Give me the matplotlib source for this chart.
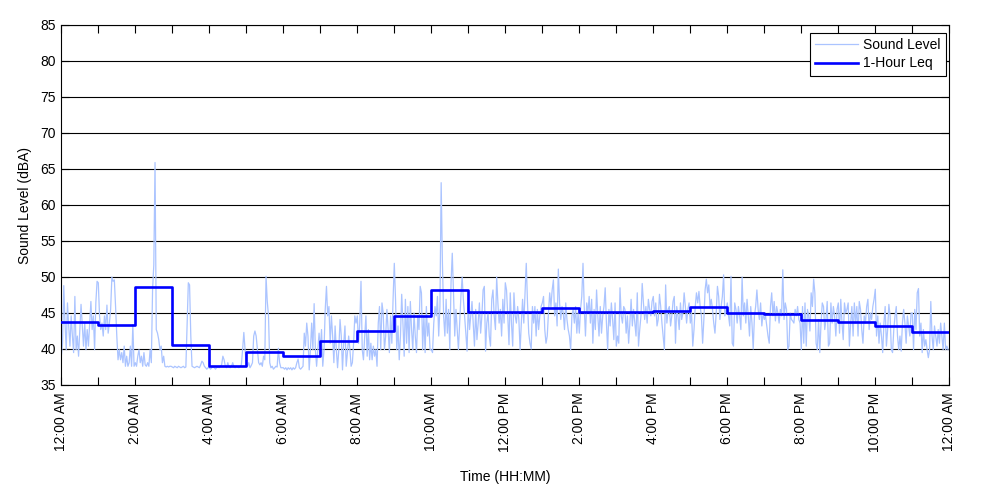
import numpy as np
import matplotlib
matplotlib.use("Agg")
import matplotlib.pyplot as plt

plt.rcParams['font.family'] = ['Liberation Sans', 'DejaVu Sans']
plt.rcParams['font.size'] = 10

# Sound level readings (dBA), 2-minute samples, 30 per hour
sound_00_06 = [
    39.0, 40.8, 48.8, 43.6, 39.9, 46.4, 43.2, 40.4, 44.6, 41.8, 39.5, 47.3, 39.9, 41.8, 39.0, 42.7, 46.2, 43.2, 40.4, 43.6, 39.9, 42.7, 40.4, 43.6, 46.6, 42.7, 44.6, 39.9, 46.4, 49.4,
    49.2, 44.6, 42.7, 43.6, 41.8, 44.6, 42.7, 46.1, 42.2, 43.6, 45.5, 50.0, 49.4, 49.6, 45.9, 41.8, 38.5, 39.9, 38.5, 39.5, 38.1, 40.4, 37.6, 39.0, 37.6, 38.1, 40.4, 37.6, 43.4, 37.6,
    38.1, 37.6, 39.0, 39.9, 38.1, 39.0, 37.6, 39.5, 37.8, 37.6, 38.1, 37.6, 39.9, 38.1, 48.2, 51.7, 65.9, 42.7, 42.2, 41.3, 39.9, 40.4, 38.1, 39.0, 37.6, 37.5, 37.6, 37.5, 37.6, 37.6,
    37.5, 37.4, 37.6, 37.5, 37.4, 37.6, 37.5, 37.4, 37.5, 37.6, 37.4, 37.5, 43.6, 49.2, 48.9, 41.8, 37.6, 37.5, 37.4, 37.5, 37.6, 37.5, 37.4, 37.8, 38.3, 38.1, 37.6, 37.4, 37.2, 37.4,
    37.4, 37.2, 37.4, 37.5, 37.4, 37.2, 37.4, 37.5, 37.4, 37.6, 37.8, 39.0, 38.5, 37.6, 37.4, 38.1, 37.5, 37.4, 37.6, 38.1, 37.5, 37.4, 37.6, 37.5, 37.4, 37.6, 37.8, 39.9, 42.3, 39.9,
    37.8, 37.6, 38.1, 37.4, 37.7, 38.1, 41.8, 42.5, 41.8, 39.9, 38.1, 37.8, 38.1, 37.6, 39.0, 38.5, 50.1, 46.6, 44.6, 38.1, 37.4, 37.6, 37.2, 37.4, 37.6, 37.5, 40.1, 38.1, 37.4, 37.4,
]
sound_06_12 = [
    37.4, 37.2, 37.4, 37.1, 37.4, 37.2, 37.4, 37.1, 37.4, 37.2, 37.4, 38.1, 38.6, 37.4, 37.2, 37.4, 37.6, 42.2, 40.4, 43.6, 41.8, 37.1, 39.9, 43.6, 39.9, 46.3, 39.9, 37.6, 39.9, 42.2,
    39.9, 42.7, 37.6, 39.9, 45.5, 48.7, 44.6, 45.9, 40.8, 44.6, 41.8, 38.1, 43.2, 39.9, 37.4, 39.9, 44.1, 41.8, 37.1, 40.8, 43.2, 37.6, 39.5, 41.8, 39.9, 37.6, 38.1, 40.8, 44.6, 43.6,
    44.6, 40.8, 43.6, 49.4, 39.9, 38.5, 41.8, 44.6, 39.0, 42.7, 38.5, 40.8, 38.5, 40.4, 39.0, 39.9, 37.6, 43.6, 45.9, 39.9, 46.4, 45.0, 39.9, 41.8, 45.5, 42.7, 39.5, 44.6, 40.8, 46.9,
    51.9, 46.9, 39.9, 43.2, 38.5, 41.8, 47.6, 43.6, 39.0, 46.9, 40.8, 45.9, 39.5, 46.6, 42.7, 39.9, 45.0, 41.8, 39.5, 44.6, 42.7, 48.7, 47.8, 39.9, 44.6, 39.5, 45.9, 41.8, 43.6, 39.9,
    39.9, 39.5, 43.6, 45.9, 44.6, 47.3, 41.8, 45.9, 63.1, 52.1, 44.6, 41.8, 46.9, 42.2, 45.5, 39.9, 49.2, 53.3, 47.8, 41.8, 45.5, 42.7, 39.9, 43.6, 47.3, 50.0, 46.9, 44.6, 42.2, 39.7,
    46.4, 42.7, 44.6, 46.6, 43.6, 40.4, 45.5, 41.3, 43.6, 46.4, 42.2, 44.6, 48.2, 48.7, 39.7, 43.6, 45.0, 41.8, 40.4, 46.9, 48.2, 44.6, 42.7, 50.0, 46.4, 43.6, 45.5, 41.8, 46.9, 43.6,
]
sound_12_18 = [
    49.2, 48.2, 44.6, 40.6, 47.8, 43.6, 40.4, 47.8, 44.6, 43.6, 45.9, 44.1, 39.9, 43.6, 46.9, 43.6, 47.8, 51.9, 46.4, 42.2, 40.8, 40.0, 45.9, 43.6, 45.9, 41.8, 45.5, 42.7, 44.6, 45.9,
    46.4, 47.3, 42.7, 40.8, 41.8, 45.0, 47.8, 45.9, 48.2, 49.6, 44.6, 46.4, 43.2, 51.1, 46.4, 44.1, 45.9, 45.0, 42.7, 46.4, 44.1, 42.7, 41.8, 39.9, 44.6, 45.5, 43.6, 45.9, 42.2, 45.0,
    42.2, 45.5, 47.3, 51.9, 45.9, 41.8, 46.4, 45.0, 47.3, 43.6, 46.9, 40.8, 45.5, 42.7, 48.2, 44.6, 41.8, 45.9, 42.2, 44.6, 45.9, 48.5, 43.6, 39.9, 45.5, 43.2, 46.4, 44.1, 41.3, 46.4,
    40.4, 41.8, 40.8, 48.5, 44.6, 43.6, 45.9, 45.5, 42.2, 44.6, 40.8, 43.6, 46.9, 43.2, 45.5, 43.6, 41.8, 47.8, 40.4, 42.7, 44.6, 49.1, 46.4, 44.1, 45.9, 43.6, 46.9, 45.5, 44.6, 46.6,
    47.3, 44.6, 46.4, 43.2, 44.1, 47.6, 45.9, 43.6, 41.8, 39.9, 48.9, 43.6, 45.5, 45.9, 43.2, 44.6, 46.6, 47.3, 40.8, 45.9, 44.6, 42.7, 46.4, 44.1, 45.0, 47.8, 45.9, 43.6, 45.5, 46.4,
    43.6, 45.0, 40.4, 42.7, 45.9, 47.8, 46.4, 48.0, 45.9, 44.6, 40.8, 44.1, 48.2, 49.7, 47.8, 48.9, 45.9, 46.9, 45.5, 43.6, 42.2, 45.0, 48.7, 47.3, 44.1, 45.9, 47.3, 50.3, 44.6, 45.5,
]
sound_18_24 = [
    46.4, 44.6, 43.2, 50.1, 40.8, 40.4, 46.4, 45.5, 43.6, 45.9, 44.6, 42.7, 50.0, 44.6, 46.4, 43.6, 46.9, 44.6, 41.8, 45.9, 43.6, 40.0, 44.6, 45.9, 48.2, 45.5, 44.1, 46.4, 43.2, 45.0,
    44.1, 44.6, 43.2, 41.8, 40.8, 45.9, 47.8, 44.6, 46.6, 43.9, 45.9, 45.0, 43.6, 45.5, 44.6, 51.0, 44.1, 46.4, 45.5, 39.9, 40.4, 45.0, 44.1, 43.9, 43.6, 45.5, 44.6, 45.9, 44.1, 43.6,
    39.9, 45.9, 40.8, 46.4, 40.4, 45.5, 44.6, 42.5, 47.8, 45.9, 49.7, 47.8, 40.8, 39.9, 44.1, 39.5, 43.6, 46.4, 45.9, 42.7, 44.1, 46.6, 40.4, 40.8, 46.4, 43.6, 45.9, 44.6, 41.8, 45.5,
    46.4, 42.2, 46.9, 43.6, 41.3, 46.4, 45.0, 45.5, 46.4, 40.4, 43.6, 45.9, 41.8, 46.4, 43.6, 45.9, 41.8, 46.6, 45.5, 42.7, 40.8, 44.6, 43.6, 45.9, 46.9, 42.7, 45.0, 44.1, 45.9, 46.9,
    48.3, 41.8, 44.6, 40.8, 43.6, 41.8, 39.5, 43.6, 45.9, 40.4, 42.7, 46.2, 44.6, 39.9, 39.5, 42.7, 44.6, 45.9, 41.8, 39.9, 41.8, 39.7, 43.6, 45.5, 43.6, 40.8, 44.6, 43.2, 41.8, 45.0,
    45.0, 39.9, 45.5, 42.7, 47.8, 48.4, 41.8, 43.6, 39.5, 42.7, 40.4, 41.3, 39.9, 38.8, 39.9, 46.6, 41.8, 39.9, 43.2, 41.8, 40.4, 42.7, 40.8, 43.6, 41.8, 39.9, 43.6, 39.9, 40.4, 39.9,
]

# Hourly Leq (dBA), hours 0..23
leq_hourly = [43.7, 43.4, 48.55, 40.6, 37.7, 39.6, 39.0, 41.15, 42.45, 44.6, 48.2, 45.2,
              45.1, 45.65, 45.2, 45.1, 45.3, 45.8, 44.95, 44.8, 44.05, 43.7, 43.15, 42.3]

tick_hours = [0, 2, 4, 6, 8, 10, 12, 14, 16, 18, 20, 22, 24]
tick_labels = ["12:00 AM", "2:00 AM", "4:00 AM", "6:00 AM", "8:00 AM", "10:00 AM",
               "12:00 PM", "2:00 PM", "4:00 PM", "6:00 PM", "8:00 PM", "10:00 PM", "12:00 AM"]

sound = np.array(sound_00_06 + sound_06_12 + sound_12_18 + sound_18_24)
t_sound = np.arange(len(sound)) * 24.0 / len(sound)

leq = np.array(leq_hourly + [leq_hourly[-1]])
t_leq = np.arange(len(leq))

fig = plt.figure(figsize=(10, 5), dpi=100)
ax = fig.add_axes([0.0613, 0.23, 0.888, 0.72])

ax.plot(t_sound, sound, color='#abc4ff', lw=0.9, label='Sound Level', zorder=2)
ax.step(t_leq, leq, where='post', color='#0000ff', lw=1.9, label='1-Hour Leq', zorder=3)

ax.set_xlim(0, 24)
ax.set_ylim(35, 85)
ax.set_yticks(np.arange(35, 86, 5))
ax.set_xticks(tick_hours)
ax.set_xticklabels(tick_labels, rotation=90)
ax.set_xticks(np.arange(1, 24, 2), minor=True)

ax.yaxis.grid(True, color='black', lw=0.8, ls='-')
ax.set_axisbelow(True)

ax.tick_params(which='both', direction='in', top=True, right=True, length=6, width=0.8, color='black')
ax.tick_params(axis='x', which='both', pad=5.5)
ax.tick_params(axis='y', pad=4)
for s in ax.spines.values():
    s.set_linewidth(0.8)
    s.set_color('black')

ax.set_ylabel('Sound Level (dBA)')
ax.yaxis.set_label_coords(-0.033, 0.5)
ax.set_xlabel('Time (HH:MM)')
ax.xaxis.set_label_coords(0.5, -0.236)

leg = ax.legend(loc='upper right', bbox_to_anchor=(0.9959, 0.9786), borderaxespad=0,
                fancybox=False, framealpha=1, edgecolor='black', borderpad=0.4,
                labelspacing=0.3, handlelength=3.1, handletextpad=0.3)
leg.get_frame().set_linewidth(0.8)

fig.savefig('out.png', dpi=100)
